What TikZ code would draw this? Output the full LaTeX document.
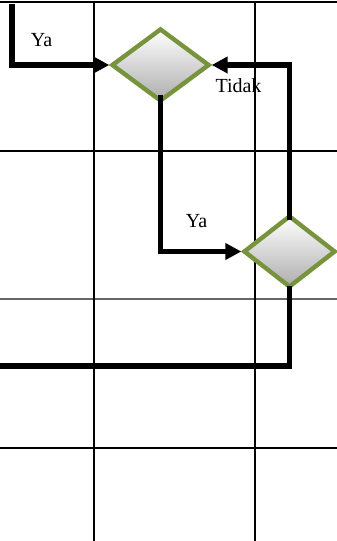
\documentclass[tikz,border=0pt]{standalone}
\usepackage{fontspec}
\setmainfont{Liberation Serif}
\usetikzlibrary{shapes.geometric,arrows.meta}
\definecolor{dgreen}{HTML}{77933C}
\begin{document}
\begin{tikzpicture}[x=1pt,y=-1pt,
  gridline/.style={line width=1.8pt,black},
  gridgray/.style={line width=1.5pt,black!60},
  flow/.style={line width=5.2pt,black,line cap=butt,
    -{Triangle[length=16pt,width=16pt]}},
  flowplain/.style={line width=5.2pt,black},
  decision/.style={diamond,draw=dgreen,line width=4.4pt,inner sep=0pt,
    top color=white,bottom color=black!32,middle color=black!16},
  lbl/.style={font=\fontsize{20}{22}\selectfont,inner sep=0pt}]
\useasboundingbox (0,0) rectangle (337,541);
% grid
\draw[gridline] (0,2) -- (337,2);
\draw[gridline] (0,151) -- (337,151);
\draw[gridgray] (0,299) -- (337,299);
\draw[gridline] (0,448) -- (337,448);
\draw[gridline] (94,2) -- (94,541);
\draw[gridline] (255,2) -- (255,541);
% decisions
\node[decision,minimum width=98pt,minimum height=73pt] (d1) at (160.5,65) {};
\node[decision,minimum width=92pt,minimum height=72pt] (d2) at (289.5,251.5) {};
% connectors
\coordinate (s1) at (12,4);
\coordinate (e1) at (0,366);
\draw[flow] (s1) |- (d1.west);
\draw[flow] ([yshift=-7pt]d2.north) |- (d1.east);
\draw[flow] ([yshift=9pt]d1.south) |- (d2.west);
\draw[flowplain] ([yshift=4pt]d2.south) |- (e1);
% labels
\node[lbl] (ya1) at (41.5,40) {Ya};
\node[lbl] (tidak) at (238.5,86) {Tidak};
\node[lbl] (ya2) at (196.5,221) {Ya};
\end{tikzpicture}
\end{document}
